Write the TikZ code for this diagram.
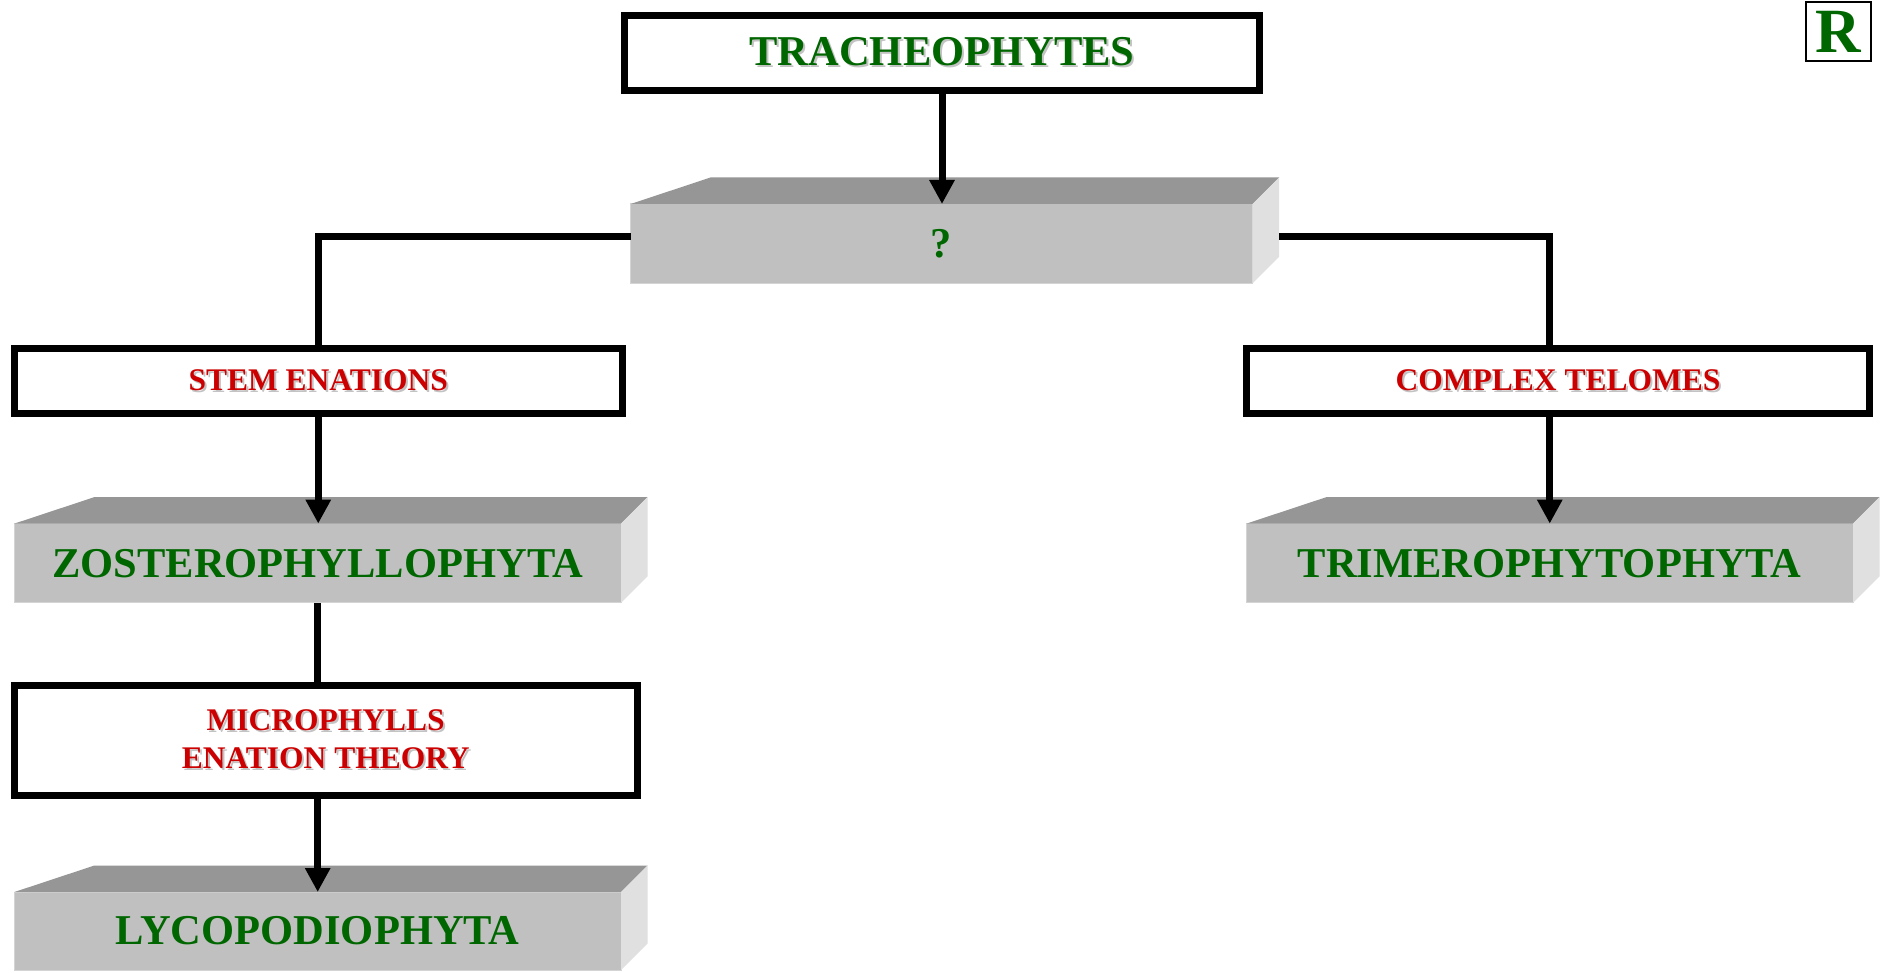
\documentclass[tikz,border=0pt]{standalone}
\usepackage{fontspec}
\setmainfont{Liberation Serif}
\usetikzlibrary{arrows.meta,calc}
\definecolor{tgreen}{RGB}{0,102,0}
\definecolor{tred}{RGB}{204,0,0}
\definecolor{frontg}{RGB}{192,192,192}
\definecolor{topg}{RGB}{150,150,150}
\definecolor{sideg}{RGB}{224,224,224}
\definecolor{edgeg}{RGB}{212,212,212}
\definecolor{shadowc}{RGB}{195,195,195}
\newcommand\shtxt[1]{\leavevmode\rlap{\hspace{2pt}\raisebox{-2pt}{\textcolor{shadowc}{#1}}}#1}
\newcommand\slabfaces[1]{%
  \fill[topg] (#1.north west) -- ++(80,-26.5) -- ($(#1.north east)+(26.5,-26.5)$) -- (#1.north east) -- cycle;
  \fill[sideg] (#1.north east) -- ++(26.5,-26.5) -- ($(#1.south east)+(26.5,-26.5)$) -- (#1.south east) -- cycle;}
\begin{document}
\begin{tikzpicture}[x=1pt,y=-1pt,
  wbox/.style={draw=black,line width=7pt,fill=white,inner sep=0pt,outer sep=0pt,rectangle,align=center,
    font=\fontsize{31.5}{38}\selectfont\bfseries,text=tred},
  slab/.style={fill=frontg,draw=edgeg,line width=1pt,inner sep=0pt,outer sep=0pt,rectangle,text=tgreen,
    font=\fontsize{42.5}{50}\selectfont\bfseries},
  conn/.style={line width=7pt},
  arr/.style={conn,-{Triangle[length=24pt,width=24pt]}}
]
\useasboundingbox[fill=white] (0,0) rectangle (1883,973);

% white boxes
\node[wbox,minimum width=635pt,minimum height=75pt,text=tgreen,font=\fontsize{42.5}{50}\selectfont\bfseries]
  (trach) at (942,53) {\shtxt{TRACHEOPHYTES}};
\node[wbox,minimum width=608.5pt,minimum height=65pt] (stem) at (318.25,381) {\shtxt{STEM ENATIONS}};
\node[wbox,minimum width=623pt,minimum height=65pt] (complex) at (1558,381) {\shtxt{COMPLEX TELOMES}};
\node[wbox,minimum width=623.5pt,minimum height=110pt] (micro) at (325.75,740.5)
  {\shtxt{MICROPHYLLS}\\\shtxt{ENATION THEORY}};

% 3D slabs
\node[slab,minimum width=622pt,minimum height=79.4pt] (q) at (941.5,243.7) {?};
\slabfaces{q}
\node[slab,minimum width=606.6pt,minimum height=79.2pt] (zos) at (317.7,563.2) {ZOSTEROPHYLLOPHYTA};
\slabfaces{zos}
\node[slab,minimum width=606.5pt,minimum height=79.2pt] (trim) at (1549.75,563.2) {TRIMEROPHYTOPHYTA};
\slabfaces{trim}
\node[slab,minimum width=606.6pt,minimum height=78pt] (lyco) at (317.7,931) {LYCOPODIOPHYTA};
\slabfaces{lyco}

% R badge
\node[draw=black,line width=2pt,fill=white,minimum width=65pt,minimum height=59pt,inner sep=0pt,outer sep=0pt,
  text=tgreen,font=\fontsize{63}{63}\selectfont\bfseries] (r) at (1838,31.5) {R};

% connectors
\draw[arr] (trach.south) -- (trach.south |- q.north);
\draw[conn] ([yshift=7pt]q.west) -| (stem.north);
\draw[conn] ([xshift=26.5pt,yshift=7pt]q.east) -| (trim.north |- complex.north);
\draw[arr] (stem.south) -- (stem.south |- zos.north);
\draw[arr] (trim.north |- complex.south) -- (trim.north);
\draw[conn] (zos.south) -- (zos.south |- micro.north);
\draw[arr] (zos.south |- micro.south) -- (lyco.north);
\end{tikzpicture}
\end{document}
